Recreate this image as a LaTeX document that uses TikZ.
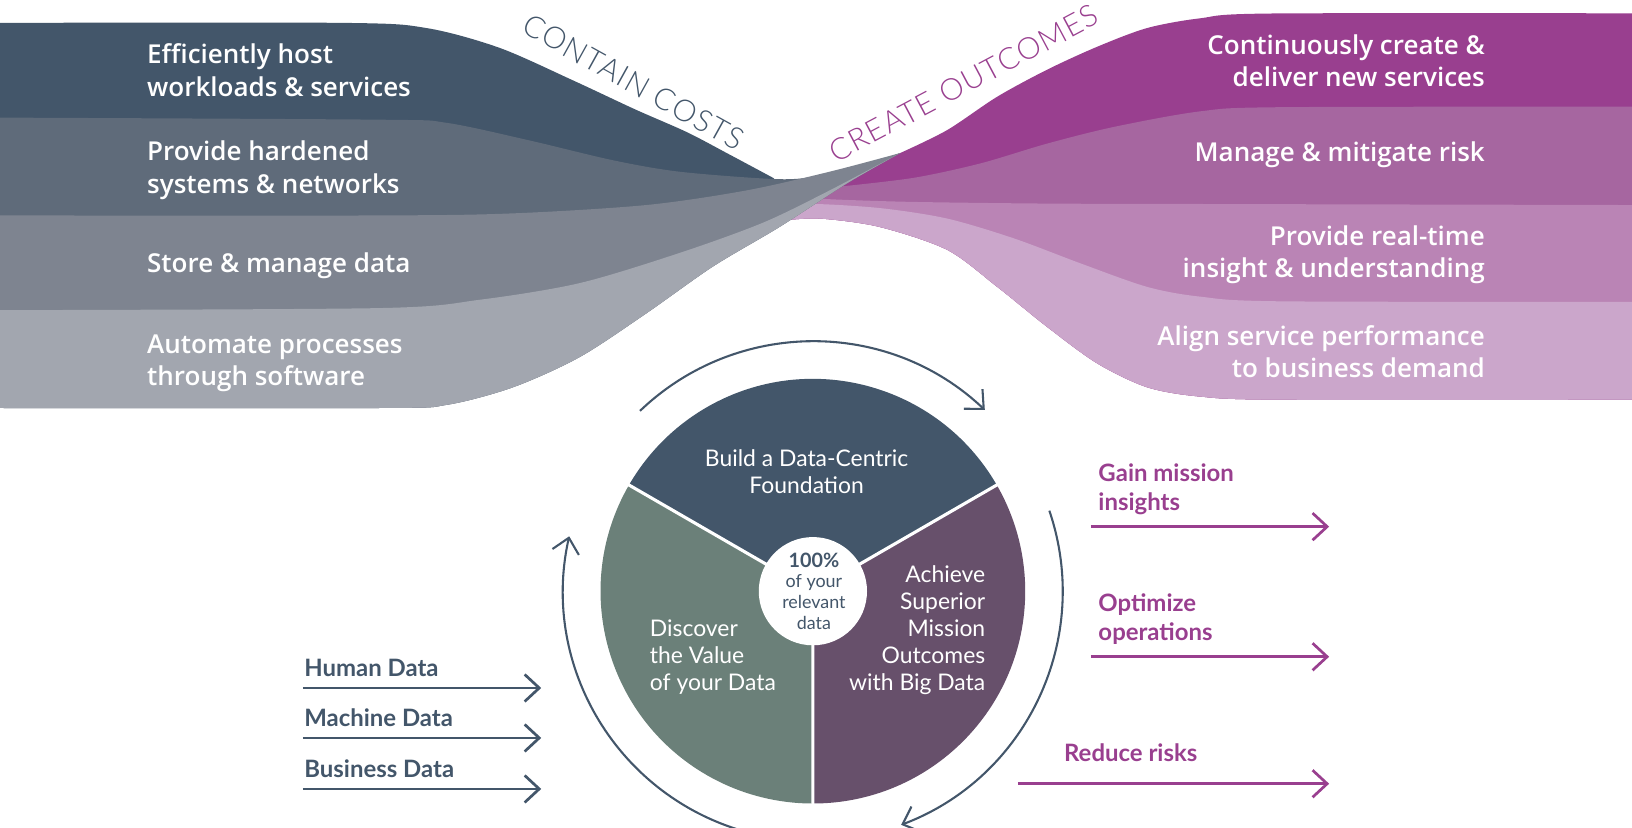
\documentclass[tikz,border=0pt]{standalone}
\usepackage{fontspec}
\setmainfont{Lato}
\IfFontExistsTF{Open Sans SemiBold}{\newfontfamily\bandfont{Open Sans SemiBold}}{%
  \IfFontExistsTF{Open Sans Semibold}{\newfontfamily\bandfont{Open Sans Semibold}}{%
    \newfontfamily\bandfont{Open Sans}[FakeBold=1.8]}}
\IfFontExistsTF{Lato Light}{\newfontfamily\thinfont{Lato Light}[LetterSpace=4]}{%
  \newfontfamily\thinfont{Lato}[LetterSpace=4]}
\newfontfamily\latof{Lato}
\usetikzlibrary{arrows.meta}
\definecolor{slate}{HTML}{43566A}
\definecolor{gtwo}{HTML}{5F6B7A}
\definecolor{gthree}{HTML}{7E8490}
\definecolor{gfour}{HTML}{A2A6AF}
\definecolor{pone}{HTML}{993F8F}
\definecolor{ptwo}{HTML}{A666A0}
\definecolor{pthree}{HTML}{BA84B5}
\definecolor{pfour}{HTML}{CBA6CB}
\definecolor{piegreen}{HTML}{6B8079}
\definecolor{piepurple}{HTML}{67506B}
\begin{document}
\begin{tikzpicture}[x=0.5pt,y=-0.5pt,
  bandtxt/.style={text=white, font=\bandfont\fontsize{12.5}{15.5}\selectfont, inner sep=0pt},
  lefttxt/.style={bandtxt, anchor=west, align=left},
  righttxt/.style={bandtxt, anchor=east, align=right},
  pietxt/.style={text=white, font=\latof\fontsize{11}{13}\selectfont, inner sep=0pt},
  centertxt/.style={text=slate, font=\latof\fontsize{8.6}{10}\selectfont, inner sep=0pt, align=center},
  datalbl/.style={text=slate, font=\latof\bfseries\fontsize{11.5}{14}\selectfont, anchor=west, inner sep=0pt, align=left},
  outlbl/.style={text=pone, font=\latof\bfseries\fontsize{11.5}{14}\selectfont, anchor=west, inner sep=0pt, align=left},
  inarrow/.style={draw=slate, line width=1.3pt, -{Straight Barb[length=7pt,width=13pt]}},
  outarrow/.style={draw=pone, line width=1.3pt, -{Straight Barb[length=7pt,width=13pt]}},
  cycarrow/.style={draw=slate, line width=1pt, -{Straight Barb[length=7pt,width=13pt]}},
  themetxt/.style={font=\thinfont\fontsize{14.5}{18}\selectfont, inner sep=0pt},
  sm/.style={smooth, tension=0.5}
]
\useasboundingbox (0,0) rectangle (1568,795);

% ---------- purple ribbons (drawn first, partly hidden by grey) ----------
\fill[pone] plot[sm] coordinates {(865,147) (910,125) (958,93) (1006,67) (1054,45) (1102,27) (1153,17.6) (1220,13) (1568,12.8)}
  -- (1568,384)
  -- plot[sm] coordinates {(1568,384) (1230,384) (1153,381) (1102,372) (1054,349) (1006,314) (958,275.5) (910,240) (845,218) (788,210) (750,212)}
  -- (800,175) -- cycle;
\fill[ptwo] plot[sm] coordinates {(800,180) (877,171) (942,157) (1006,138) (1070,122) (1153,107) (1230,103) (1568,102.5)}
  -- (1568,384)
  -- plot[sm] coordinates {(1568,384) (1230,384) (1153,381) (1102,372) (1054,349) (1006,314) (958,275.5) (910,240) (845,218) (788,210) (750,212)}
  -- cycle;
\fill[pthree] plot[sm] coordinates {(780,190) (801,191.6) (877,194) (1006,195.6) (1153,196) (1568,197)}
  -- (1568,384)
  -- plot[sm] coordinates {(1568,384) (1230,384) (1153,381) (1102,372) (1054,349) (1006,314) (958,275.5) (910,240) (845,218) (788,210) (750,212)}
  -- cycle;
\fill[pfour] plot[sm] coordinates {(760,200) (781,196) (846,200) (910,210) (974,229) (1038,253) (1102,275.6) (1153,285) (1230,289.5) (1568,290)}
  -- (1568,384)
  -- plot[sm] coordinates {(1568,384) (1230,384) (1153,381) (1102,372) (1054,349) (1006,314) (958,275.5) (910,240) (845,218) (788,210) (750,212)}
  -- cycle;

% ---------- grey ribbons ----------
\fill[slate] plot[sm] coordinates {(0,22) (330,22) (410,27) (480,46) (550,77) (610,105) (660,127) (700,148) (743,171)}
  -- (760,190) -- (0,250) -- cycle;
\fill[gtwo] plot[sm] coordinates {(0,113) (365,115) (429,118) (509,135) (589,154) (653,165) (743,172) (781,170) (829,159) (865,147)}
  -- plot[sm] coordinates {(865,147) (814,176) (749,218) (685,256) (621,301) (557,343) (493,372) (429,389) (365,392) (0,392)}
  -- cycle;
\fill[gthree] plot[sm] coordinates {(0,207) (365,207) (493,205) (621,197) (717,183) (797,165) (865,147)}
  -- plot[sm] coordinates {(865,147) (814,176) (749,218) (685,256) (621,301) (557,343) (493,372) (429,389) (365,392) (0,392)}
  -- cycle;
\fill[gfour] plot[sm] coordinates {(0,298) (365,296) (461,288) (557,272) (653,243) (733,214) (797,183) (865,147)}
  -- plot[sm] coordinates {(865,147) (814,176) (749,218) (685,256) (621,301) (557,343) (493,372) (429,389) (365,392) (0,392)}
  -- cycle;

% ---------- ribbon texts ----------
\node[lefttxt] (t1) at (141,67.5) {Efficiently host\\workloads \& services};
\node[lefttxt] (t2) at (141,163.5) {Provide hardened\\systems \& networks};
\node[lefttxt] (t3) at (141,255) {Store \& manage data};
\node[lefttxt] (t4) at (141,349) {Automate processes\\through software};
\node[righttxt] (t5) at (1427,58.5) {Continuously create \&\\deliver new services};
\node[righttxt] (t6) at (1427,149) {Manage \& mitigate risk};
\node[righttxt] (t7) at (1427,244.5) {Provide real-time\\insight \& understanding};
\node[righttxt] (t8) at (1427,338) {Align service performance\\to business demand};

\node[themetxt, text=slate, rotate=-29] (cc) at (609,79) {CONTAIN COSTS};
\node[themetxt, text=pone, rotate=28] (co) at (926,80) {CREATE OUTCOMES};

% ---------- pie ----------
\coordinate (C) at (781,568);
\fill[slate] (C) -- ++(-30:204) arc[start angle=-30, end angle=-150, radius=204] -- cycle;
\fill[piegreen] (C) -- ++(-150:204) arc[start angle=-150, end angle=-270, radius=204] -- cycle;
\fill[piepurple] (C) -- ++(90:204) arc[start angle=90, end angle=-30, radius=204] -- cycle;
\draw[white, line width=1.5pt] (C) -- ++(-30:205) (C) -- ++(-150:205) (C) -- ++(90:205);
\fill[white] (C) circle[radius=52];

\node[pietxt, align=center] (s1) at (775,453) {Build a Data-Centric\\Foundation};
\node[pietxt, align=left, anchor=west] (s2) at (624,631) {Discover\\the Value\\of your Data};
\node[pietxt, align=right, anchor=east] (s3) at (947,605.5) {Achieve\\Superior\\Mission\\Outcomes\\with Big Data};
\node[centertxt] (hub) at (782,568) {{\bfseries\fontsize{9.5}{10}\selectfont 100\%}\\of your\\relevant\\data};

% ---------- cycle arrows ----------
\draw[cycarrow] (C) ++(-133.8:240) arc[start angle=-133.8, end angle=-46.5, radius=240];
\draw[cycarrow] (C) ++(-18.8:240) arc[start angle=-18.8, end angle=69.3, radius=240];
\draw[cycarrow] (C) ++(-255:240) arc[start angle=-255, end angle=-167.3, radius=240];

% ---------- input arrows ----------
\node[datalbl] (hd) at (292,642) {Human Data};
\node[datalbl] (md) at (292,690) {Machine Data};
\node[datalbl] (bd) at (292,739) {Business Data};
\coordinate (hd0) at (291,661); \coordinate (hd1) at (520,661);
\coordinate (md0) at (291,709); \coordinate (md1) at (520,709);
\coordinate (bd0) at (291,758); \coordinate (bd1) at (520,758);
\draw[inarrow] (hd0) -- (hd1);
\draw[inarrow] (md0) -- (md1);
\draw[inarrow] (bd0) -- (bd1);

% ---------- output arrows ----------
\node[outlbl] (gm) at (1055,470) {Gain mission\\insights};
\node[outlbl] (oo) at (1055,595) {Optimize\\operations};
\node[outlbl] (rr) at (1022,723) {Reduce risks};
\coordinate (gm0) at (1048,506); \coordinate (gm1) at (1277,506);
\coordinate (oo0) at (1048,631); \coordinate (oo1) at (1277,631);
\coordinate (rr0) at (978,753); \coordinate (rr1) at (1277,753);
\draw[outarrow] (gm0) -- (gm1);
\draw[outarrow] (oo0) -- (oo1);
\draw[outarrow] (rr0) -- (rr1);
\end{tikzpicture}
\end{document}
